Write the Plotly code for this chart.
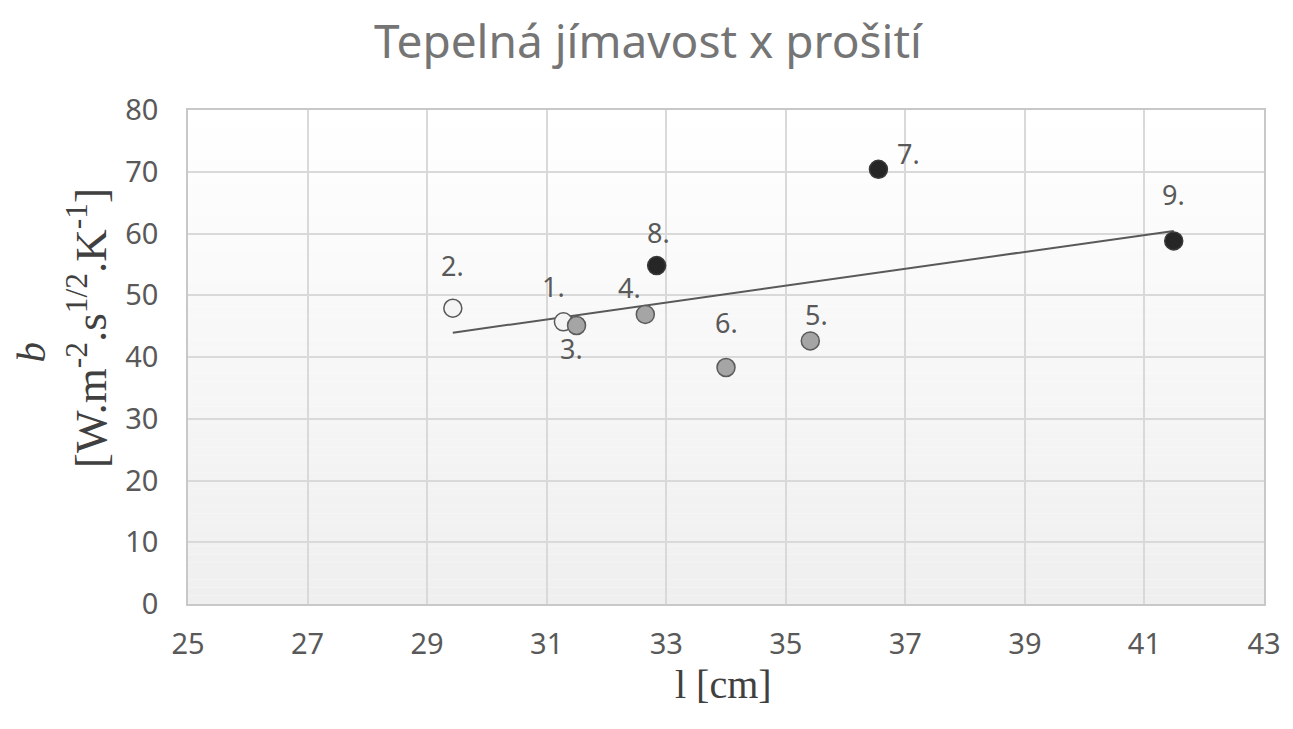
import numpy as np
import plotly.graph_objects as go

# ---- data ----
labels = ["1.", "2.", "3.", "4.", "5.", "6.", "7.", "8.", "9."]
l_cm = [31.28, 29.43, 31.50, 32.65, 35.41, 34.00, 36.55, 32.84, 41.49]
b_val = [45.7, 47.9, 45.1, 46.9, 42.6, 38.3, 70.4, 54.8, 58.8]
groups = ["open", "open", "mid", "mid", "mid", "mid", "dark", "dark", "dark"]
x_ticks = [25, 27, 29, 31, 33, 35, 37, 39, 41, 43]
y_ticks = [0, 10, 20, 30, 40, 50, 60, 70, 80]

# ---- styles ----
fill = {"open": "#f4f4f4", "mid": "#a5a5a5", "dark": "#262626"}
edge = {"open": "#595959", "mid": "#5a5a5a", "dark": "#3a3a3a"}
label_shift = {"1.": (-10, 35), "2.": (0, 43), "3.": (-5, -23), "4.": (-16, 27),
               "5.": (6, 26), "6.": (0, 45), "7.": (30, 16), "8.": (2, 33), "9.": (0, 46)}

# page has an 8px body margin
OFF = 8
W, H = 1293 - OFF, 729 - 2 * OFF
PL, PR, PT, PB = 188, 1274, 110, 604          # plot area in window pixels
ml, mr, mt, mb = PL - OFF, W - (PR - OFF), PT - OFF, H - (PB - OFF)
pw, ph = PR - PL, PB - PT

fig = go.Figure()

# trend line (least squares fit)
k, q = np.polyfit(l_cm, b_val, 1)
xs = np.array([min(l_cm), max(l_cm)])
fig.add_trace(go.Scatter(x=xs, y=k * xs + q, mode="lines",
                         line=dict(color="#595959", width=2), hoverinfo="skip",
                         showlegend=False))

for g in ["open", "mid", "dark"]:
    idx = [i for i, gg in enumerate(groups) if gg == g]
    fig.add_trace(go.Scatter(
        x=[l_cm[i] for i in idx], y=[b_val[i] for i in idx], mode="markers",
        marker=dict(size=18, color=fill[g], line=dict(color=edge[g], width=1.5)),
        showlegend=False))

for lab, x, y in zip(labels, l_cm, b_val):
    dx, dy = label_shift[lab]
    fig.add_annotation(x=x, y=y, text=lab, showarrow=False, xshift=dx, yshift=dy,
                       font=dict(family="Noto Sans", size=27, color="#595959"))

# background gradient in plot area
n = 60
for i in range(n):
    t = i / n
    c = int(round(239 + (255 - 239) * (t + 0.5 / n)))
    fig.add_shape(type="rect", xref="x domain", yref="y domain", x0=0, x1=1,
                  y0=t, y1=(i + 1) / n, fillcolor=f"rgb({c},{c},{c})",
                  line=dict(width=0), layer="below")

# axis titles
fig.add_annotation(xref="paper", yref="paper", x=(728 - PL) / pw,
                   y=-(684 - PB) / ph, xanchor="center", yanchor="middle",
                   text="l [cm]", showarrow=False,
                   font=dict(family="Liberation Serif", size=40, color="#404040"))
fig.add_annotation(xref="paper", yref="paper", x=-(PL - 30) / pw,
                   y=(PB - 352) / ph, xanchor="center", yanchor="middle",
                   textangle=-90, text="<i>b</i>", showarrow=False,
                   font=dict(family="Liberation Serif", size=41, color="#404040"))
fig.add_annotation(xref="paper", yref="paper", x=-(PL - 86) / pw,
                   y=(PB - 328) / ph, xanchor="center", yanchor="middle",
                   textangle=-90,
                   text="[W.m<sup>-2</sup>.s<sup>1/2</sup>.K<sup>-1</sup>]",
                   showarrow=False,
                   font=dict(family="Liberation Serif", size=45, color="#404040"))

fig.update_layout(
    width=W, height=H,
    margin=dict(l=ml, r=mr, t=mt, b=mb),
    paper_bgcolor="white", plot_bgcolor="rgba(0,0,0,0)",
    title=dict(text="Tepelná jímavost x prošití", x=(648 - OFF) / W, xanchor="center",
               y=1 - (42 - OFF) / H, yanchor="middle",
               font=dict(family="Noto Sans", size=46, color="#757575")),
)
fig.update_xaxes(range=[25, 43], tickvals=x_ticks, showgrid=True, gridcolor="#d9d9d9",
                 gridwidth=1.5, zeroline=False, showline=True, linecolor="#c8c8c8",
                 linewidth=1.5, mirror=True, ticks="outside", ticklen=13,
                 tickcolor="rgba(0,0,0,0)", ticklabeloverflow="allow",
                 tickfont=dict(family="Noto Sans", size=29, color="#595959"))
fig.update_yaxes(range=[0, 80], tickvals=y_ticks, showgrid=True, gridcolor="#d9d9d9",
                 gridwidth=1.5, zeroline=False, showline=True, linecolor="#c8c8c8",
                 linewidth=1.5, mirror=True, ticks="outside", ticklen=22,
                 tickcolor="rgba(0,0,0,0)",
                 tickfont=dict(family="Noto Sans", size=29, color="#595959"))

fig.write_html("out.html")
